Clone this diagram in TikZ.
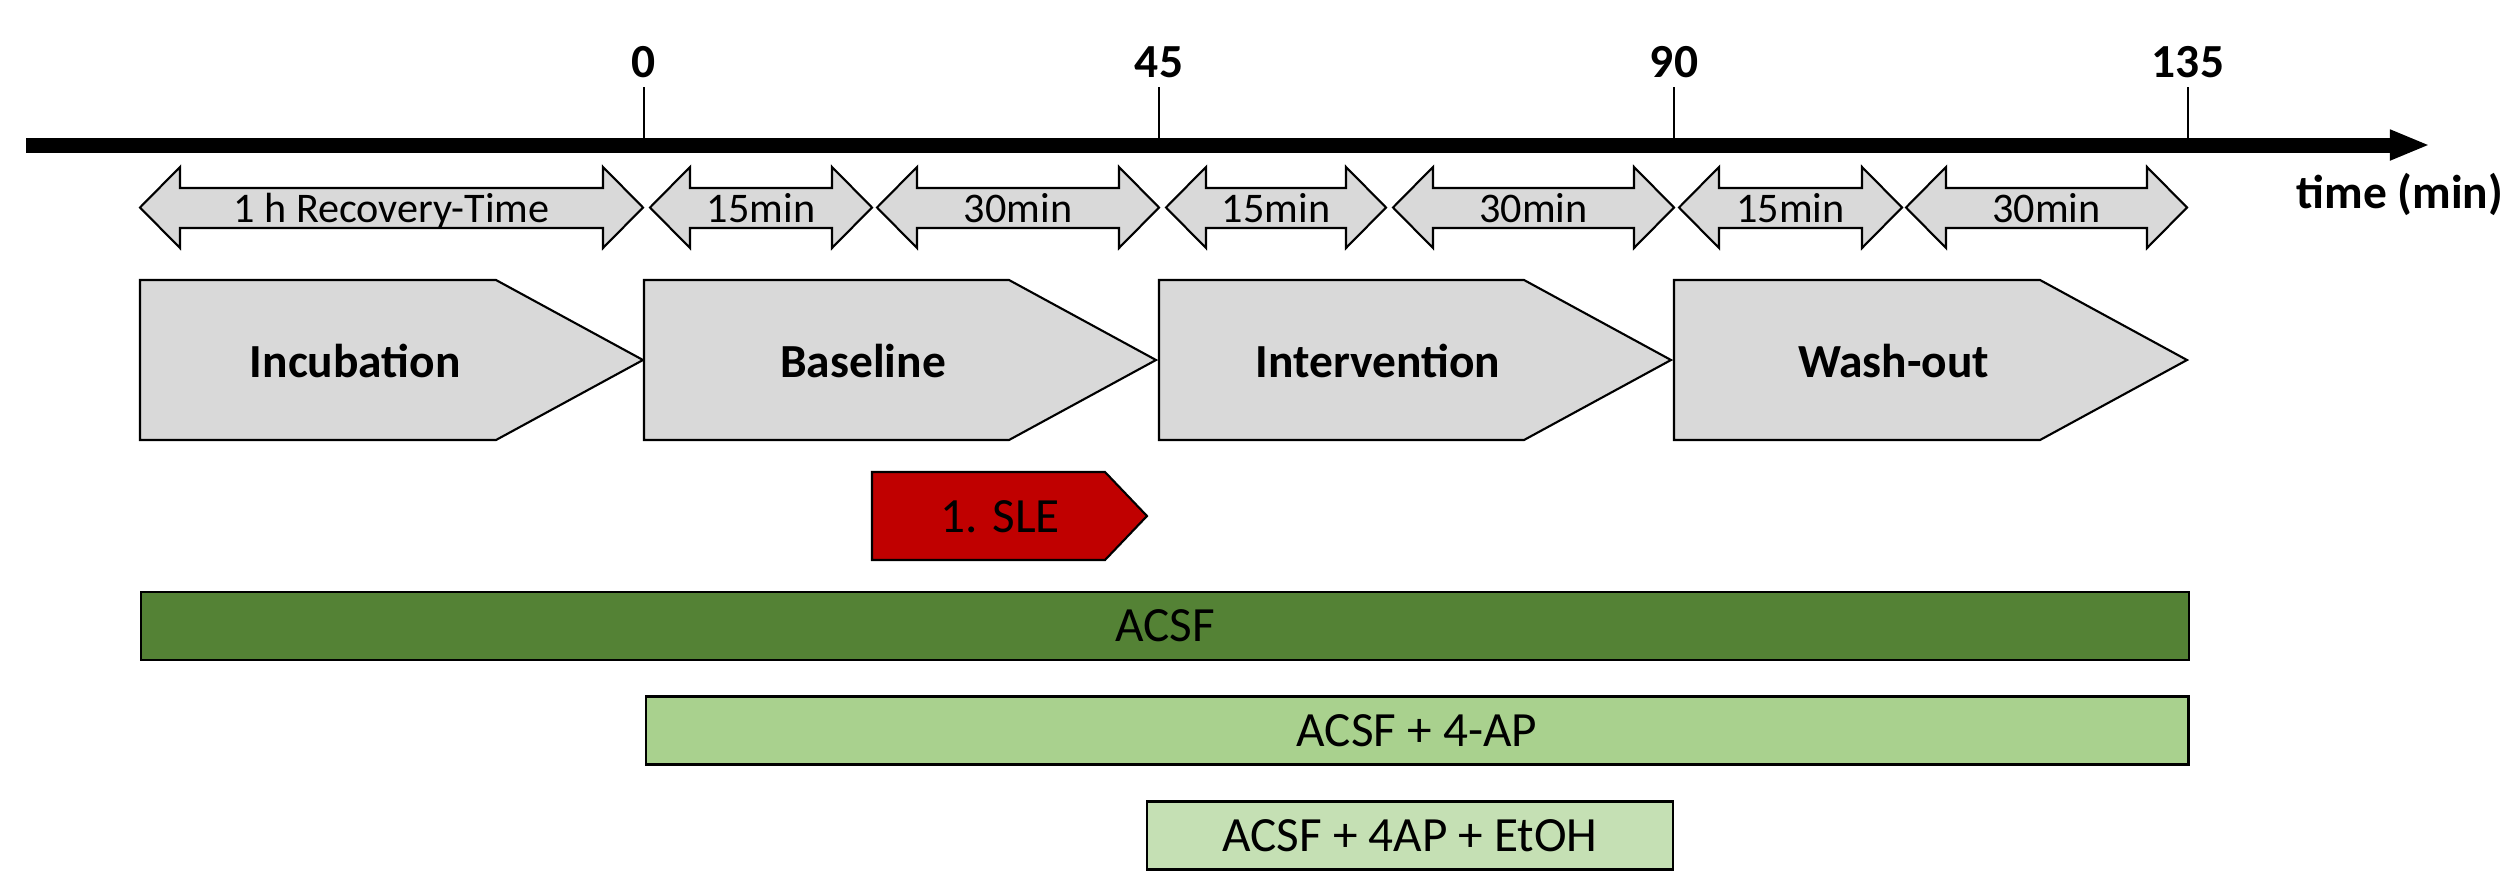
\documentclass[tikz,border=0pt]{standalone}
\usepackage{xcolor}
\usepackage{fontspec}
\setmainfont{Carlito}
\usetikzlibrary{positioning,calc,arrows.meta}
\definecolor{phasegray}{HTML}{D9D9D9}
\definecolor{slered}{HTML}{C00000}
\definecolor{acsfdark}{HTML}{548235}
\definecolor{acsfmid}{HTML}{A9D18E}
\definecolor{acsflight}{HTML}{C5E0B4}
\tikzset{
	shapeline/.style={draw, line width=0.6pt},
	phasebox/.style={shapeline, fill=phasegray},
	barbox/.style={shapeline, minimum height=0.68cm, inner sep=0pt, font=\fontsize{14}{17}\selectfont},
	boldlabel/.style={anchor=base, inner sep=0pt, font=\bfseries\fontsize{13.5}{16}\selectfont},
	durlabel/.style={anchor=base, inner sep=0pt, font=\fontsize{12}{14}\selectfont}
}

\begin{document}
\begin{tikzpicture}[x=0.01cm, y=-0.01cm]
		\useasboundingbox (0,0) rectangle (2508,872);
		\coordinate (start) at (26,145);
		\coordinate (end) at (2430,145);
		\draw[line width=0.15cm, -{Triangle[length=0.4cm, width=0.28cm]}] (start) -- (end);
		\node[boldlabel, name=timelabel] at (2400,208) {time (min)};
		\foreach \x/\t in {644/0, 1159/45, 1674/90, 2188/135} {
			\coordinate (tick\t) at (\x,145);
			\node[boldlabel, name=num\t] at (\x,77) {\t};
			\draw[line width=0.7pt] (tick\t) -- (\x,87);
		}
		\foreach \a/\b/\txt [count=\i] in {140/643/{1 h Recovery-Time}, 650/872/15min, 877/1159/30min, 1166/1386/15min, 1393/1674/30min, 1679/1902/15min, 1906/2187/30min} {
			\draw[phasebox] (\a,207.5) -- (\a+40,167) -- (\a+40,188) -- (\b-40,188) -- (\b-40,167) -- (\b,207.5) -- (\b-40,248) -- (\b-40,228) -- (\a+40,228) -- (\a+40,248) -- cycle;
			\node[durlabel, name=dur\i] at ({(\a+\b)/2},222) {\txt};
		}
		\foreach \x/\w/\n/\txt in {140/503/inc/Incubation, 644/512/base/Baseline, 1159/512/int/Intervention, 1674/513/wash/Wash-out} {
			\draw[phasebox] (\x,280) -- (\x+\w-147,280) -- (\x+\w,360) -- (\x+\w-147,440) -- (\x,440) -- cycle;
			\node[boldlabel, name=\n] at ({\x+0.428*\w},377) {\txt};
		}
		\draw[shapeline, fill=slered] (872,472) -- (1105,472) -- (1147,516) -- (1105,560) -- (872,560) -- cycle;
		\node[anchor=base, inner sep=0pt, font=\fontsize{14}{17}\selectfont, name=sle] at (1000,532) {1. SLE};
		\node[barbox, fill=acsfdark, minimum width=20.46cm, name=acsf] at (1165,626) {ACSF};
		\node[barbox, fill=acsfmid, minimum width=15.42cm, name=acsfap] at (1417,730.5) {ACSF + 4-AP};
		\node[barbox, fill=acsflight, minimum width=5.26cm, name=acsfetoh] at (1410,835.5) {ACSF + 4AP + EtOH};
	\end{tikzpicture}
\end{document}
